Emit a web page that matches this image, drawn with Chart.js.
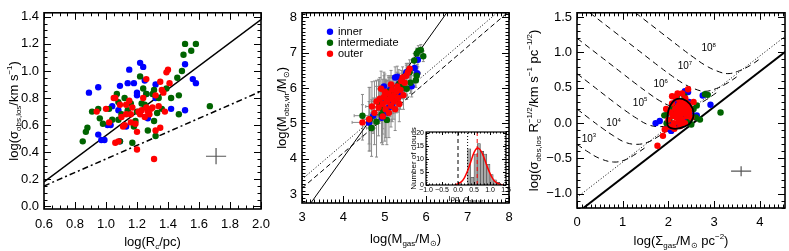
<!DOCTYPE html>
<html>
<head>
<meta charset="utf-8" />
<title>Cloud scaling relations</title>
<script src="https://cdn.jsdelivr.net/npm/chart.js"></script>
<style>
    body { margin: 0; background: #fff; }
    #wrap { position: relative; width: 789px; height: 251px; overflow: hidden; }
    #wrap canvas { position: absolute; }
</style>
</head>
<body>
<div id="wrap">
    <canvas id="c1"></canvas>
    <canvas id="c2"></canvas>
    <canvas id="c3"></canvas>
    <canvas id="c4"></canvas>
</div>

<script>
// ---- panel 1: size-linewidth ----
const p1XTicks = [0.6, 0.8, 1.0, 1.2, 1.4, 1.6, 1.8, 2.0];
const p1YTicks = [0.0, 0.2, 0.4, 0.6, 0.8, 1.0, 1.2, 1.4];
const p1Blue = [[0.89,0.84],[0.95,0.88],[0.95,0.53],[0.97,0.49],[0.99,0.49],[1.04,0.74],[1.08,0.71],[1.01,0.60],[1.03,0.60],[1.09,0.48],[1.15,1.01],[1.14,0.91],[1.09,0.89],[1.18,0.91],[1.20,0.84],[1.22,1.06],[1.24,1.03],[1.25,0.93],[1.26,0.83],[1.27,0.65],[1.32,0.80],[1.32,0.90],[1.13,0.59],[1.20,0.82],[1.42,0.72],[1.51,1.05],[1.51,0.71],[1.56,0.94],[1.58,0.91]];
const p1Green = [[0.85,0.48],[0.87,0.55],[0.88,0.58],[0.91,0.70],[0.95,0.72],[0.96,0.65],[0.98,0.61],[1.04,0.64],[1.02,0.72],[1.07,0.83],[1.08,0.77],[1.08,0.64],[1.09,0.48],[1.10,0.68],[1.12,0.80],[1.14,0.71],[1.16,0.76],[1.18,0.59],[1.19,0.63],[1.17,0.47],[1.22,0.96],[1.23,0.76],[1.24,0.87],[1.26,0.83],[1.27,0.56],[1.30,0.83],[1.31,0.86],[1.31,0.63],[1.32,0.52],[1.33,0.69],[1.34,0.80],[1.36,0.72],[1.39,0.87],[1.42,0.80],[1.46,0.95],[1.47,0.68],[1.47,0.82],[1.49,1.00],[1.50,1.12],[1.51,1.20],[1.55,1.15],[1.58,1.20],[1.67,0.74],[1.20,0.70],[1.25,0.75]];
const p1Red = [[0.94,0.70],[1.00,0.72],[1.02,0.62],[1.05,0.80],[1.06,0.80],[1.06,0.47],[1.08,0.48],[1.09,0.75],[1.10,0.66],[1.11,0.59],[1.13,0.68],[1.13,0.75],[1.15,0.78],[1.16,0.68],[1.17,0.73],[1.19,0.61],[1.20,0.42],[1.21,0.70],[1.22,0.68],[1.23,0.71],[1.24,0.80],[1.26,0.94],[1.26,0.73],[1.27,0.70],[1.28,0.68],[1.29,0.72],[1.31,0.35],[1.32,0.56],[1.32,0.82],[1.34,0.74],[1.35,0.92],[1.35,0.58],[1.36,0.86],[1.37,0.84],[1.38,0.70],[1.39,0.99],[1.40,1.01],[1.41,0.91],[1.20,0.55],[1.16,0.62],[1.30,0.73],[1.12,0.60],[1.25,0.66]];
const p1Fit = [[0.6, 0.18], [2.0, 1.38]];
const p1Larson = [[0.6, 0.15], [2.0, 0.85]];
const p1Err = [1.71, 0.37, 0.065, 0.06];   // x, y, dx, dy

// ---- panel 2: virial mass vs gas mass ----
const p2XTicks = [3, 4, 5, 6, 7, 8];
const p2YTicks = [3, 4, 5, 6, 7, 8];
// x, y, xerr, yerr
const p2Blue = [[4.62,5.02,0.12,0.6],[4.72,5.22,0.1,0.5],[4.93,5.16,0.15,0.7],[4.90,5.58,0.1,0.5],[5.00,5.30,0.12,0.8],[5.10,5.45,0.1,0.4],[5.25,6.30,0.1,0.3],[5.30,6.32,0.08,0.3],[5.34,6.12,0.1,0.4],[5.38,5.80,0.1,0.4],[5.52,6.45,0.08,0.25],[5.65,6.05,0.1,0.3],[5.72,6.57,0.08,0.2],[5.80,6.80,0.06,0.2],[5.78,6.42,0.08,0.25],[5.05,5.70,0.1,0.5],[4.98,6.05,0.12,0.4],[5.18,5.55,0.1,0.5],[5.45,6.00,0.1,0.3],[5.12,5.95,0.1,0.4]];
const p2Green = [[4.46,5.22,0.2,0.6],[4.64,5.12,0.15,0.9],[4.68,4.87,0.12,0.8],[4.80,5.05,0.12,1.0],[4.86,5.60,0.1,0.6],[4.95,5.40,0.12,0.7],[5.02,5.75,0.1,0.5],[5.10,5.90,0.1,0.4],[5.22,5.87,0.1,0.4],[5.35,6.12,0.1,0.3],[5.42,6.02,0.1,0.3],[5.53,5.98,0.08,0.3],[5.62,6.15,0.08,0.3],[5.71,6.78,0.06,0.2],[5.77,6.35,0.06,0.2],[5.75,6.22,0.06,0.2],[5.77,6.98,0.05,0.15],[5.81,7.05,0.05,0.15],[5.87,7.08,0.05,0.15],[5.93,6.90,0.05,0.15],[5.60,6.45,0.08,0.25],[5.28,5.70,0.1,0.4],[4.92,5.25,0.12,0.8],[5.05,5.10,0.12,0.7]];
const p2Red = [[4.46,5.03,0.25,0.5],[4.62,5.12,0.15,0.9],[4.69,5.48,0.15,0.7],[4.75,5.30,0.12,0.9],[4.80,5.62,0.12,0.6],[4.85,5.45,0.12,0.8],[4.88,5.70,0.1,0.6],[4.91,5.98,0.1,0.5],[4.95,5.55,0.1,0.7],[4.98,5.75,0.1,0.6],[5.02,5.40,0.1,0.8],[5.05,5.62,0.1,0.6],[5.08,5.85,0.1,0.5],[5.10,5.30,0.1,0.7],[5.12,5.70,0.1,0.5],[5.15,5.50,0.1,0.6],[5.18,5.95,0.1,0.4],[5.20,5.78,0.1,0.5],[5.22,5.62,0.1,0.5],[5.25,5.40,0.1,0.6],[5.28,5.90,0.1,0.4],[5.30,6.05,0.1,0.4],[5.32,5.72,0.1,0.4],[5.35,5.55,0.1,0.5],[5.38,5.95,0.1,0.4],[5.40,6.20,0.1,0.3],[5.43,6.30,0.08,0.3],[5.48,6.15,0.08,0.3],[5.52,6.35,0.08,0.3],[5.56,6.45,0.08,0.25],[5.60,6.55,0.08,0.25],[5.00,5.90,0.1,0.5],[5.15,6.10,0.1,0.4],[4.95,5.20,0.12,0.8],[5.45,5.80,0.1,0.4]];
const p2Fit = [[3.0, 2.40], [6.6, 8.30]];
const p2Alpha1 = [[3.0, 3.42], [8.0, 8.42]];
const p2Alpha2 = [[3.0, 3.17], [8.0, 8.17]];
const p2Legend = [['inner', '#0000ff'], ['intermediate', '#006400'], ['outer', '#ff0000']];

// ---- inset: virial parameter histogram ----
const insXTicks = [-1.0, -0.5, 0.0, 0.5, 1.0, 1.5];
const insYTicks = [0, 5, 10, 15, 20];
const insBins = [0.05, 0.15, 0.25, 0.35, 0.45, 0.55, 0.65, 0.75, 0.85, 0.95, 1.05, 1.15, 1.25];
const insCounts = [1, 0, 0, 14, 3, 12, 16, 13, 12, 8, 4, 2, 1];
const insGauss = [[-0.1,0],[0.0,0.5],[0.1,1.2],[0.2,2.8],[0.3,5.5],[0.4,9.0],[0.5,12.5],[0.6,14.3],[0.7,13.5],[0.8,11.0],[0.9,7.5],[1.0,4.5],[1.1,2.2],[1.2,0.9],[1.3,0.3],[1.4,0]];
const insMarks = [[0.0, '#000', [4, 3]], [0.3, '#000', [1, 2]], [0.6, '#ff0000', [4, 3]]];

// ---- panel 3: Heyer relation ----
const p3XTicks = [0, 1, 2, 3, 4];
const p3YTicks = [-1.0, -0.5, 0.0, 0.5, 1.0, 1.5];
const p3Blue = [[1.72,0.00],[1.81,0.03],[2.36,0.45],[2.43,0.44],[2.92,0.26],[2.75,0.39],[2.06,-0.11],[1.94,0.11],[2.24,0.25],[2.50,0.16],[2.62,0.11],[2.36,0.07],[2.15,0.30],[2.30,0.20],[2.05,0.00],[2.20,-0.02],[2.45,0.30],[1.98,-0.08]];
const p3Green = [[2.80,0.41],[2.86,0.40],[3.14,0.15],[1.91,0.11],[2.62,0.25],[2.69,0.05],[2.02,0.05],[2.25,0.20],[2.45,0.02],[2.33,0.30],[2.07,0.18],[2.18,0.38],[2.40,0.12],[2.28,0.00],[2.12,-0.06],[1.96,0.00],[2.55,0.20],[2.50,-0.02],[2.10,0.22],[2.35,0.38],[2.60,0.08],[2.00,0.15]];
const p3Red = [[1.76,-0.32],[1.88,-0.18],[1.92,-0.09],[2.43,0.48],[2.30,0.42],[2.00,0.05],[2.05,0.15],[2.08,0.28],[2.10,0.10],[2.12,0.00],[2.15,0.20],[2.17,0.35],[2.18,0.08],[2.20,0.15],[2.22,0.25],[2.23,0.02],[2.25,0.30],[2.27,0.12],[2.28,0.20],[2.30,0.05],[2.32,0.25],[2.33,0.15],[2.35,0.32],[2.36,0.00],[2.38,0.20],[2.40,0.10],[2.42,0.28],[2.45,0.15],[2.47,0.22],[2.50,0.08],[2.03,-0.05],[2.13,-0.08],[2.26,-0.04],[2.08,0.38],[2.20,0.42],[1.95,0.20],[2.55,0.30],[2.15,0.12],[2.25,0.08],[2.37,0.35]];
const p3Contour = [[1.97,0.05],[2.02,0.22],[2.15,0.33],[2.32,0.34],[2.47,0.27],[2.55,0.15],[2.50,0.02],[2.35,-0.05],[2.15,-0.08],[2.00,-0.05],[1.97,0.05]];
const p3Solid = [[0.0, -1.27], [4.6, 1.03]];
const p3Dotted = [[0.0, -1.05], [4.6, 1.25]];
const p3Pe3 = [[0,-0.30],[0.25,-0.41],[0.5,-0.50],[0.8,-0.55],[1.05,-0.52],[1.3,-0.43],[1.55,-0.32]];
const p3Pe4 = [[0,0.20],[0.3,0.05],[0.55,-0.07],[0.8,-0.18],[1.05,-0.27],[1.3,-0.30],[1.55,-0.27],[1.8,-0.18],[2.05,-0.07]];
const p3Pe5 = [[0,0.70],[0.3,0.55],[0.8,0.30],[1.05,0.18],[1.3,0.07],[1.55,-0.02],[1.8,-0.05],[2.05,-0.02],[2.3,0.07],[2.55,0.18]];
const p3Pe6 = [[0,1.20],[0.5,0.95],[1.0,0.70],[1.3,0.55],[1.55,0.43],[1.8,0.32],[2.05,0.24],[2.3,0.20],[2.55,0.24],[2.8,0.32],[3.05,0.43]];
const p3Pe7 = [[0.28,1.56],[0.8,1.30],[1.3,1.05],[1.8,0.80],[2.05,0.68],[2.3,0.57],[2.55,0.49],[2.8,0.45],[3.05,0.49],[3.3,0.57],[3.55,0.68]];
const p3Pe8 = [[1.28,1.56],[1.8,1.30],[2.3,1.05],[2.55,0.93],[2.8,0.82],[3.05,0.74],[3.3,0.70],[3.55,0.74],[3.8,0.82],[4.05,0.93]];
const p3PeLabels = [[0.26,-0.21,'3'],[0.80,0.01,'4'],[1.38,0.30,'5'],[1.83,0.56,'6'],[2.36,0.82,'7'],[2.88,1.07,'8']];
const p3Err = [3.59, -0.68, 0.22, 0.07];

const FONT = '"Liberation Sans", Arial, Helvetica, sans-serif';
const BLUE = '#0000ff', GREEN = '#006400', RED = '#ff0000';

const pts = a => a.map(p => ({ x: p[0], y: p[1] }));

function dots(arr, color) {
    return { data: pts(arr), backgroundColor: color, borderWidth: 0, pointRadius: 3.2, showLine: false };
}
function line(arr, color, width, dash, tension) {
    return { data: pts(arr), borderColor: color, borderWidth: width, borderDash: dash || [],
             pointRadius: 0, showLine: true, tension: tension || 0, fill: false };
}

// rich text: [text, kind] kind 0 normal, -1 sub, 1 sup, 2 sub|sup stacked
function segWidth(ctx, s, size) {
    if (s[1] === 0) { ctx.font = size + 'px ' + FONT; return ctx.measureText(s[0]).width; }
    ctx.font = Math.round(size * 0.62) + 'px ' + FONT;
    if (s[1] === 2) {
        const [a, b] = s[0].split('|');
        return Math.max(ctx.measureText(a).width, ctx.measureText(b).width);
    }
    return ctx.measureText(s[0]).width;
}
function drawRich(ctx, segs, cx, cy, size, rotate) {
    ctx.save();
    ctx.translate(cx, cy);
    if (rotate) ctx.rotate(-Math.PI / 2);
    ctx.fillStyle = '#000';
    ctx.textAlign = 'left';
    ctx.textBaseline = 'alphabetic';
    const total = segs.reduce((w, s) => w + segWidth(ctx, s, size), 0);
    let x = -total / 2;
    const base = size * 0.36;
    segs.forEach(s => {
        const w = segWidth(ctx, s, size);
        if (s[1] === 0) ctx.fillText(s[0], x, base);
        else if (s[1] === -1) ctx.fillText(s[0], x, base + size * 0.28);
        else if (s[1] === 1) ctx.fillText(s[0], x, base - size * 0.42);
        else {
            const [a, b] = s[0].split('|');
            ctx.fillText(a, x, base + size * 0.28);
            ctx.fillText(b, x, base - size * 0.42);
        }
        x += w;
    });
    ctx.restore();
}

// box with inward major/minor ticks on all four sides
const framePlugin = {
    id: 'frame',
    afterDatasetsDraw(chart, args, o) {
        const { ctx, chartArea: a, scales: { x, y } } = chart;
        ctx.save();
        ctx.strokeStyle = '#000';
        ctx.lineWidth = 1;
        const tick = (p, len, horiz) => {
            p = Math.round(p) + 0.5;
            ctx.beginPath();
            if (horiz) {
                ctx.moveTo(p, a.bottom); ctx.lineTo(p, a.bottom - len);
                ctx.moveTo(p, a.top); ctx.lineTo(p, a.top + len);
            } else {
                ctx.moveTo(a.left, p); ctx.lineTo(a.left + len, p);
                ctx.moveTo(a.right, p); ctx.lineTo(a.right - len, p);
            }
            ctx.stroke();
        };
        const minors = (sc, step, horiz) => {
            const i0 = Math.ceil(sc.min / step - 1e-6), i1 = Math.floor(sc.max / step + 1e-6);
            for (let i = i0; i <= i1; i++) tick(sc.getPixelForValue(i * step), o.minLen, horiz);
        };
        minors(x, o.xMinor, true);
        minors(y, o.yMinor, false);
        x.ticks.forEach(t => tick(x.getPixelForValue(t.value), o.majLen, true));
        y.ticks.forEach(t => tick(y.getPixelForValue(t.value), o.majLen, false));
        ctx.lineWidth = o.lw;
        ctx.strokeRect(a.left, a.top, a.width, a.height);
        // axis titles
        if (o.xTitle) drawRich(ctx, o.xTitle, (a.left + a.right) / 2, o.xTitleY, o.tSize, false);
        if (o.yTitle) drawRich(ctx, o.yTitle, o.yTitleX, (a.top + a.bottom) / 2, o.tSize, true);
        ctx.restore();
    }
};

// error cross (panels 1 and 3)
function crossPlugin(err) {
    return {
        id: 'cross',
        afterDatasetsDraw(chart) {
            const { ctx, scales: { x, y } } = chart;
            ctx.save();
            ctx.strokeStyle = '#555';
            ctx.lineWidth = 1.2;
            ctx.beginPath();
            ctx.moveTo(x.getPixelForValue(err[0] - err[2]), y.getPixelForValue(err[1]));
            ctx.lineTo(x.getPixelForValue(err[0] + err[2]), y.getPixelForValue(err[1]));
            ctx.moveTo(x.getPixelForValue(err[0]), y.getPixelForValue(err[1] - err[3]));
            ctx.lineTo(x.getPixelForValue(err[0]), y.getPixelForValue(err[1] + err[3]));
            ctx.stroke();
            ctx.restore();
        }
    };
}

function axis(dir, min, max, ticks, fmt, size, pad, fs) {
    return {
        type: 'linear', min: min, max: max,
        afterBuildTicks: sc => { sc.ticks = ticks.map(v => ({ value: v })); },
        afterFit: sc => { if (dir === 'x') sc.height = size; else sc.width = size; },
        ticks: { callback: fmt, font: { family: FONT, size: fs || 13 }, color: '#000',
                 padding: pad, autoSkip: false, maxRotation: 0 },
        grid: { display: false, drawTicks: false },
        border: { display: false }
    };
}

function makeChart(id, g, datasets, scales, frame, extra) {
    const cv = document.getElementById(id);
    cv.width = g.w; cv.height = g.h;
    cv.style.left = g.left + 'px';
    cv.style.top = g.top + 'px';
    return new Chart(cv, {
        type: 'scatter',
        data: { datasets: datasets },
        options: {
            responsive: false, animation: false, events: [],
            layout: { padding: { top: g.pt, right: g.pr, left: 0, bottom: 0 } },
            plugins: { legend: { display: false }, tooltip: { enabled: false }, frame: frame },
            scales: scales
        },
        plugins: [framePlugin].concat(extra || [])
    });
}

const f1 = v => v.toFixed(1);
const fm = v => (v < 0 ? '\u2212' : '') + Math.abs(v).toFixed(1);
const f0 = v => String(v);

// ---------- panel 1 ----------
makeChart('c1', { left: 0, top: 0, w: 280, h: 251, pt: 5, pr: 19 }, [
    dots(p1Red, RED), dots(p1Green, GREEN), dots(p1Blue, BLUE),
    line(p1Fit, '#000', 1.5),
    line(p1Larson, '#000', 1.5, [6, 3, 2, 3])
], {
    x: axis('x', 0.6, 2.0, p1XTicks, f1, 42, 8),
    y: axis('y', -0.02, 1.43, p1YTicks, f1, 44, 5)
}, {
    xMinor: 0.05, yMinor: 0.05, majLen: 7, minLen: 3.5, lw: 1.6, tSize: 13,
    xTitle: [['log(R', 0], ['c', -1], ['/pc)', 0]], xTitleY: 241,
    yTitle: [['log(\u03c3', 0], ['obs,los', -1], ['/km s', 0], ['\u22121', 1], [')', 0]], yTitleX: 13
}, [crossPlugin(p1Err)]);

// ---------- panel 2 ----------
const errPlugin = {
    id: 'errbars',
    beforeDatasetsDraw(chart) {
        const { ctx, scales: { x, y } } = chart;
        ctx.save();
        ctx.strokeStyle = '#8a8a8a';
        ctx.lineWidth = 1;
        [p2Blue, p2Green, p2Red].forEach(arr => arr.forEach(p => {
            const px = x.getPixelForValue(p[0]), py = y.getPixelForValue(p[1]);
            const x0 = x.getPixelForValue(p[0] - p[2]), x1 = x.getPixelForValue(p[0] + p[2]);
            const y0 = y.getPixelForValue(p[1] - p[3]), y1 = y.getPixelForValue(p[1] + p[3]);
            ctx.beginPath();
            ctx.moveTo(x0, py); ctx.lineTo(x1, py);
            ctx.moveTo(px, y0); ctx.lineTo(px, y1);
            ctx.moveTo(px - 1.5, y0); ctx.lineTo(px + 1.5, y0);
            ctx.moveTo(px - 1.5, y1); ctx.lineTo(px + 1.5, y1);
            ctx.moveTo(x0, py - 1.5); ctx.lineTo(x0, py + 1.5);
            ctx.moveTo(x1, py - 1.5); ctx.lineTo(x1, py + 1.5);
            ctx.stroke();
        }));
        ctx.restore();
    },
    afterDatasetsDraw(chart) {
        const { ctx, chartArea: a } = chart;
        ctx.save();
        p2Legend.forEach((l, i) => {
            const yy = a.top + 19 + i * 11;
            ctx.fillStyle = l[1];
            ctx.beginPath(); ctx.arc(a.left + 28, yy, 3.2, 0, Math.PI * 2); ctx.fill();
            ctx.fillStyle = '#000';
            ctx.font = '11px ' + FONT;
            ctx.textBaseline = 'middle';
            ctx.fillText(l[0], a.left + 36, yy);
        });
        ctx.restore();
    }
};

makeChart('c2', { left: 264, top: 0, w: 262, h: 251, pt: 5, pr: 17 }, [
    dots(p2Red.map(p => [p[0], p[1]]), RED),
    dots(p2Green.map(p => [p[0], p[1]]), GREEN),
    dots(p2Blue.map(p => [p[0], p[1]]), BLUE),
    line(p2Fit, '#000', 1),
    line(p2Alpha1, '#000', 1, [1, 2]),
    line(p2Alpha2, '#000', 1, [5, 3])
], {
    x: axis('x', 3, 8, p2XTicks, f0, 48, 7),
    y: axis('y', 2.75, 8.13, p2YTicks, f0, 38, 5)
}, {
    xMinor: 0.1, yMinor: 0.1, majLen: 7, minLen: 3.5, lw: 1.6, tSize: 13,
    xTitle: [['log(M', 0], ['gas', -1], ['/M', 0], ['\u2299', -1], [')', 0]], xTitleY: 238,
    yTitle: [['log(M', 0], ['obs,vir', -1], ['/M', 0], ['\u2299', -1], [')', 0]], yTitleX: 17
}, [errPlugin]);

// ---------- inset ----------
makeChart('c4', { left: 395, top: 122, w: 120, h: 90, pt: 10, pr: 9 }, [
    line(insGauss, RED, 1.5, [], 0.4),
    ...insMarks.map(m => line([[m[0], 0], [m[0], 20.5]], m[1], 1, m[2])),
    { type: 'bar', data: insBins.map((b, i) => ({ x: b, y: insCounts[i] })),
      backgroundColor: '#a8a8a8', borderColor: '#444', borderWidth: 0.6,
      barPercentage: 1, categoryPercentage: 1 }
], {
    x: Object.assign(axis('x', -1.0, 1.5, insXTicks, fm, 27, 1, 7), { offset: false }),
    y: axis('y', 0, 20.5, insYTicks, f0, 31, 2, 7)
}, {
    xMinor: 0.1, yMinor: 1, majLen: 3, minLen: 1.5, lw: 1.2, tSize: 8,
    xTitle: [['log  \u03b1', 0], ['obs,vir', -1]], xTitleY: 76,
    yTitle: [['Number of clouds', 0]], yTitleX: 18
});

// ---------- panel 3 ----------
const peLabelPlugin = {
    id: 'pelabels',
    afterDatasetsDraw(chart) {
        const { ctx, scales: { x, y } } = chart;
        p3PeLabels.forEach(l => {
            drawRich(ctx, [['10', 0], [l[2], 1]], x.getPixelForValue(l[0]), y.getPixelForValue(l[1]), 10, false);
        });
    }
};

makeChart('c3', { left: 524, top: 0, w: 265, h: 251, pt: 5, pr: 4 }, [
    line(p3Contour, '#000', 1.8, [], 0.45),
    dots(p3Red, RED), dots(p3Green, GREEN), dots(p3Blue, BLUE),
    line(p3Solid, '#000', 2),
    line(p3Dotted, '#000', 1, [1, 2]),
    line(p3Pe3, '#000', 1, [6, 4], 0.4),
    line(p3Pe4, '#000', 1, [6, 4], 0.4),
    line(p3Pe5, '#000', 1, [6, 4], 0.4),
    line(p3Pe6, '#000', 1, [6, 4], 0.4),
    line(p3Pe7, '#000', 1, [6, 4], 0.4),
    line(p3Pe8, '#000', 1, [6, 4], 0.4)
], {
    x: axis('x', 0, 4.55, p3XTicks, f0, 43, 7),
    y: axis('y', -1.2, 1.56, p3YTicks, fm, 53, 5)
}, {
    xMinor: 0.1, yMinor: 0.1, majLen: 7, minLen: 3.5, lw: 1.6, tSize: 13,
    xTitle: [['log(\u03a3', 0], ['gas', -1], ['/M', 0], ['\u2299', -1], [' pc', 0], ['\u22122', 1], [')', 0]], xTitleY: 240,
    yTitle: [['log(\u03c3', 0], ['obs,los', -1], [' R', 0], ['c|\u22121/2', 2], ['/km s', 0], ['\u22121', 1], [' pc', 0], ['\u22121/2', 1], [')', 0]], yTitleX: 9
}, [crossPlugin(p3Err), peLabelPlugin]);
</script>
</body>
</html>
